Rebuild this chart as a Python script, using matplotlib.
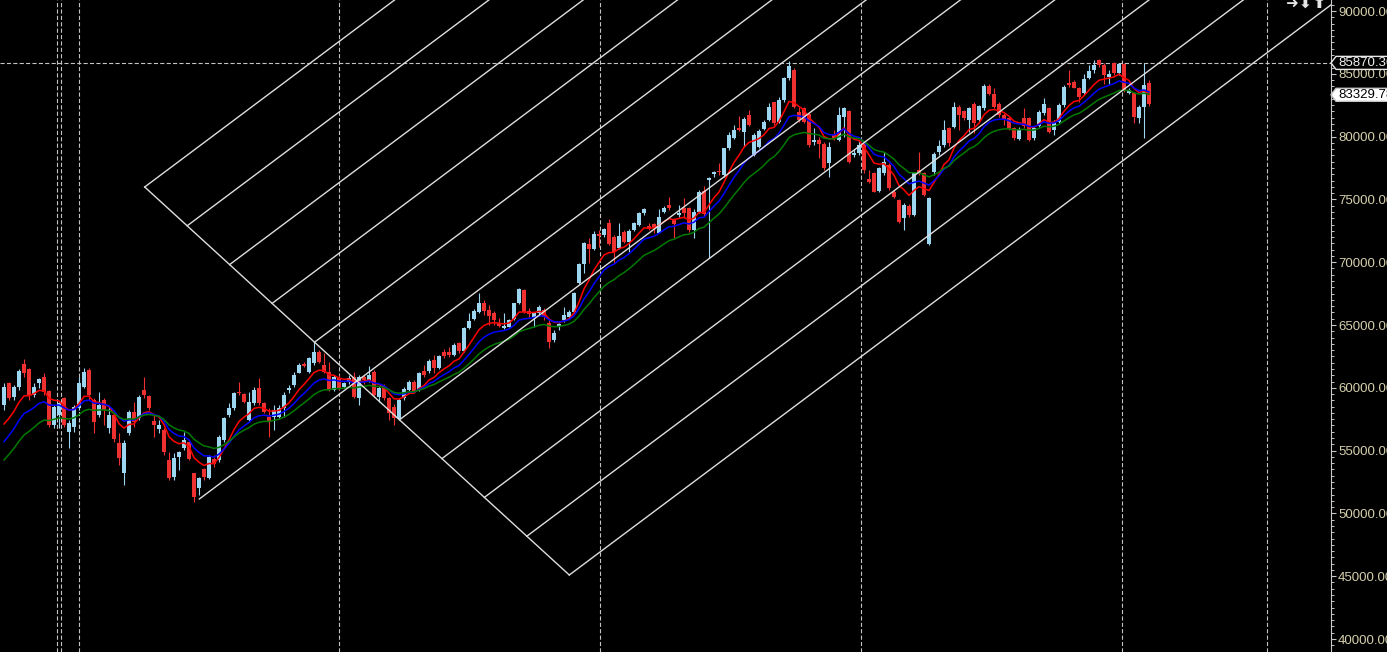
import numpy as np
import matplotlib
matplotlib.use('Agg')
from matplotlib import pyplot as plt
from matplotlib.patches import Polygon
from matplotlib.ticker import MultipleLocator, FixedLocator

# weekly candles (bar 0 = first full candle on the left)
opens = [
    58631, 60409, 59241, 60090, 61895, 61470, 59427, 60356, 60887, 59772,
    57038, 57835, 59162, 56508, 56906, 58365, 60090, 61417, 59029, 57835,
    59029, 56773, 57835, 55579, 53190, 56375, 58100, 57569, 59825, 59347,
    57357, 56693, 56640, 54252, 52925, 54464, 55180, 55711, 53190, 51996,
    53508, 52792, 54305, 54252, 55844, 57835, 58365, 59692, 59480, 57436,
    58763, 60011, 58816, 57702, 57702, 57702, 58365, 59825, 60223, 61205,
    61895, 61285, 61948, 62877, 61816, 61285, 59825, 60754, 60090, 60489,
    60887, 59162, 60887, 60622, 61286, 59295, 60144, 59162, 58499, 57490,
    59162, 59826, 60489, 59879, 61365, 61365, 62214, 61551, 62878, 62825,
    62613, 63541, 62957, 64736, 65452, 66063, 66726, 66195, 65930, 65187,
    64789, 64868, 65452, 66726, 67788, 66116, 65665, 65930, 66195, 65134,
    63807, 64921, 65399, 65664, 66063, 68318, 69858, 71450, 71025, 72246,
    72167, 73149, 72034, 71105, 72432, 71636, 72565, 72963, 73892, 72883,
    73043, 72352, 74025, 74555, 73414, 73759, 74290, 74290, 72565, 74025,
    75697, 76546, 76997, 77262, 76944, 79067, 79863, 80712, 80394, 81721,
    78536, 79200, 80606, 81323, 82729, 81190, 82915, 84640, 85304, 81986,
    82252, 81774, 79544, 79730, 79385, 77873, 80128, 79730, 81588, 82040,
    78536, 78669, 79465, 76625, 77076, 75670, 77076, 77740, 75617, 74953,
    73493, 74502, 73759, 77342, 77076, 71423, 77209, 78801, 79332, 80712,
    80792, 82384, 82040, 81323, 82570, 81323, 82252, 84030, 83366, 82570,
    81721, 81455, 80659, 79810, 81455, 81508, 79863, 80872, 81854, 82252,
    80526, 81190, 82517, 84242, 84375, 83844, 83446, 84640, 85304, 86100,
    85702, 84773, 85834, 85038, 85755, 83446, 83446, 81455, 82384, 84242,
]
highs = [
    60356, 60489, 60223, 61470, 62267, 61550, 60356, 60807, 61152, 59825,
    58631, 58896, 59294, 57436, 58631, 60887, 61550, 61550, 59162, 59692,
    59162, 58498, 57967, 56375, 55844, 58233, 58896, 59427, 60887, 59427,
    57835, 57436, 56773, 54915, 54783, 54995, 56508, 55844, 53243, 52925,
    53588, 54650, 54650, 56242, 57702, 58763, 59692, 60489, 59560, 59692,
    60090, 60754, 58896, 58365, 58631, 58631, 59692, 60223, 61285, 61948,
    62081, 62479, 63673, 63010, 62744, 62081, 61019, 61019, 60489, 61020,
    61286, 61020, 61020, 61737, 61418, 60144, 60304, 59295, 58711, 59162,
    60038, 60622, 60622, 61286, 61816, 62268, 62613, 62613, 63064, 63276,
    63541, 63674, 64868, 65983, 66249, 67576, 66992, 66594, 66142, 65532,
    65930, 65452, 66779, 67920, 67841, 66328, 66060, 66593, 66328, 65399,
    64603, 65187, 66461, 66195, 67655, 69964, 71636, 71901, 72512, 72565,
    72698, 73414, 72167, 73149, 72565, 72618, 73228, 74025, 74290, 73096,
    73149, 74210, 74476, 75219, 73494, 74555, 75086, 74423, 74210, 75750,
    76068, 76811, 77262, 77873, 79120, 80341, 80925, 81641, 81588, 82119,
    80261, 80606, 81323, 82650, 82782, 83181, 84773, 86020, 85436, 82384,
    82384, 81854, 80659, 79996, 79544, 79544, 80526, 82384, 82384, 82119,
    78987, 79730, 79598, 77342, 77209, 77607, 78801, 77873, 75749, 75033,
    74688, 74608, 77209, 78748, 77209, 75219, 78801, 79730, 81323, 80792,
    82782, 82517, 82119, 82384, 82782, 82517, 84162, 84162, 83844, 82782,
    81854, 81588, 80792, 80792, 82252, 81588, 80872, 82119, 83101, 82384,
    81323, 82650, 84110, 85304, 84508, 83977, 84959, 85702, 86100, 86180,
    85834, 85304, 85967, 85834, 85834, 83844, 83579, 82517, 85870.36, 84507,
]
lows = [
    58233, 59029, 59029, 59825, 60887, 59029, 59294, 59958, 59427, 56906,
    56773, 56773, 56906, 55180, 56508, 58233, 59958, 59029, 56428, 57702,
    57038, 56375, 55711, 53854, 52261, 56242, 56906, 57436, 59162, 58233,
    56109, 56375, 54650, 52659, 52659, 53455, 55048, 54252, 50934, 51465,
    52659, 52712, 53721, 54119, 55711, 57702, 58233, 59427, 58763, 57304,
    58631, 58631, 57967, 56109, 56640, 57569, 57702, 59560, 60090, 61152,
    61683, 61152, 61816, 61948, 61152, 59772, 59772, 59825, 59958, 60304,
    59162, 58632, 60304, 60489, 59295, 58897, 59030, 57437, 57039, 57437,
    59030, 59693, 59560, 59746, 60887, 61206, 61206, 61471, 62347, 62480,
    62533, 62745, 62878, 64656, 65399, 65983, 65797, 65001, 65001, 64868,
    64656, 64815, 65399, 66673, 65983, 65665, 64868, 65797, 65399, 63143,
    63674, 64603, 65266, 65532, 65983, 68265, 69115, 69911, 70972, 71238,
    72034, 71371, 69964, 71025, 71503, 70840, 72512, 72883, 73759, 72565,
    72299, 72299, 73892, 74157, 71901, 73626, 73494, 72432, 71901, 73892,
    73680, 70309, 76811, 76944, 76811, 78934, 79810, 80447, 79200, 80872,
    78450, 79120, 80526, 81243, 80925, 81057, 82782, 84508, 82252, 81190,
    81057, 79200, 79332, 78271, 77342, 76811, 79730, 79651, 79996, 77873,
    78403, 78536, 77076, 76280, 75564, 75617, 76944, 75749, 75086, 73095,
    72564, 73626, 73706, 76944, 75298, 71370, 76944, 78536, 79200, 79279,
    80712, 80526, 81323, 80394, 80261, 81190, 82119, 83313, 82252, 81588,
    80925, 80526, 79730, 79730, 80712, 79650, 79730, 80792, 81721, 80261,
    80128, 81057, 82384, 83977, 83844, 82782, 83313, 84587, 85038, 85569,
    84162, 84162, 84906, 84906, 83579, 83366, 81057, 81057, 79916, 82464,
]
closes = [
    60090, 59162, 60090, 61338, 61152, 59427, 60090, 60701, 59692, 57038,
    58498, 58763, 57038, 57171, 58498, 60356, 61285, 59427, 57304, 58631,
    58233, 57835, 55897, 54384, 55579, 58100, 57304, 59294, 59427, 58365,
    57038, 57038, 54915, 52792, 54384, 54915, 55844, 54305, 51332, 52792,
    52925, 54517, 53933, 56109, 57569, 58365, 59560, 59560, 58896, 58896,
    59825, 58763, 58100, 57304, 58233, 58365, 59427, 59958, 61019, 61816,
    61736, 62346, 62877, 62081, 61285, 59825, 60887, 59958, 60356, 60755,
    59295, 60887, 60622, 61020, 59428, 59959, 59162, 57968, 57570, 59030,
    59879, 60489, 59693, 61206, 61020, 62161, 61551, 62533, 62533, 62613,
    63409, 62931, 64789, 65346, 66116, 66779, 66142, 65718, 65399, 64948,
    64948, 65399, 66726, 67841, 66063, 65850, 66000, 66407, 65664, 63674,
    64337, 65081, 65797, 66063, 67575, 69858, 71556, 71025, 72246, 72087,
    72618, 71450, 70840, 72087, 71636, 72512, 73149, 73892, 74210, 72618,
    72830, 73626, 74290, 74290, 73043, 73892, 73892, 72565, 74025, 75617,
    73839, 76731, 77156, 77156, 79067, 80128, 80526, 80526, 81402, 80925,
    80128, 80447, 81190, 82384, 81057, 82915, 84640, 85649, 82384, 81323,
    81190, 79332, 79730, 79385, 77474, 79200, 79863, 81721, 82252, 78005,
    78722, 79332, 77342, 76360, 75617, 77474, 78005, 75935, 75219, 73228,
    74555, 73759, 77076, 77076, 75351, 75139, 78589, 79279, 80526, 79465,
    82384, 81721, 81455, 82252, 81057, 82464, 84056, 83366, 82384, 81721,
    81402, 80606, 79863, 80606, 80872, 79730, 80712, 81933, 82570, 80341,
    81190, 82517, 83977, 84110, 83897, 83181, 84587, 85224, 85702, 85702,
    84906, 84959, 85038, 85755, 83711, 83711, 81588, 82384, 84100, 82570,
]

# moving averages: periods and their value on the first bar
ema_periods = [8, 13, 21]
ema_start = [57120, 55710, 54250]
ema_colors = ['#ff0000', '#0000ff', '#007a00']

# period separators (in bar units)
separators = [10.67, 11.47, 14.93, 67.07, 119.25, 171.47, 223.67, 252.6]

# channel tool: base line ends, start of the middle line, number of lines
chan_base_a = (28.14, 75988)
chan_base_b = (113.06, 45096)
chan_anchor = (39.07, 51147)
chan_levels = 11

high_line = 85870.36
last_price = 83329.78

y_ticks = list(range(40000, 90001, 5000))
corner_icons = ['\u279c', '\u2b07', '\u2b06']

W, H = 1387, 652
fig = plt.figure(figsize=(W / 100, H / 100), dpi=100, facecolor='black')
ax = fig.add_axes([0, 0, 1331 / W, 1])
ax.set_facecolor('black')
plt.rcParams['lines.scale_dashes'] = False

n = len(closes)
x = np.arange(n)
o = np.array(opens, float)
c = np.array(closes, float)
hi = np.array(highs, float)
lo = np.array(lows, float)
up = c >= o

grid_col = '#c4c4c4'
for s in separators:
    ax.axvline(s, color=grid_col, lw=0.8, dashes=(3, 1.6), zorder=1)
ax.axhline(high_line, color=grid_col, lw=0.8, dashes=(3, 1.6), zorder=1)

bull = '#9cd6f0'
bear = '#ee3030'
cols = np.where(up, bull, bear)
ax.vlines(x, lo, hi, colors=cols, lw=0.8, zorder=2)
body_lo = np.minimum(o, c)
body_h = np.maximum(np.abs(c - o), 60)
ax.bar(x, body_h, bottom=body_lo, width=0.64, color=cols, linewidth=0, zorder=3)


def ema(values, period, start):
    a = 2.0 / (period + 1)
    out = [start]
    for v in values[1:]:
        out.append(out[-1] + a * (v - out[-1]))
    return out


for p, s0, col in zip(ema_periods, ema_start, ema_colors):
    ax.plot(x, ema(closes, p, s0), color=col, lw=1.1, zorder=4)

# channel
line_col = '#dedede'
bxs = np.linspace(chan_base_a[0], chan_base_b[0], chan_levels)
bys = np.linspace(chan_base_a[1], chan_base_b[1], chan_levels)
mid = chan_levels // 2
slope = (bys[mid] - chan_anchor[1]) / (bxs[mid] - chan_anchor[0])
ax.plot([bxs[0], bxs[-1]], [bys[0], bys[-1]], color=line_col, lw=1.0, zorder=5)
ax.plot([chan_anchor[0], bxs[mid]], [chan_anchor[1], bys[mid]], color=line_col, lw=1.0, zorder=5)
for bx, by in zip(bxs, bys):
    ax.plot([bx, bx + 400], [by, by + 400 * slope], color=line_col, lw=1.0, zorder=5)

ax.set_xlim(-0.8, 265.4)
ax.set_ylim(38965, 90877)

for side in ['top', 'left', 'bottom']:
    ax.spines[side].set_visible(False)
ax.spines['right'].set_color('#c8c8c8')
ax.spines['right'].set_linewidth(0.8)
ax.set_xticks([])
ax.yaxis.tick_right()
ax.yaxis.set_major_locator(FixedLocator(y_ticks))
ax.yaxis.set_minor_locator(MultipleLocator(500))
ax.set_yticklabels(['%.2f' % v for v in y_ticks])
ax.tick_params(axis='y', which='major', length=3.5, width=0.8, pad=1.5,
               colors='#c8c8c8', labelcolor='#d6d0ac', labelsize=9.5)
ax.tick_params(axis='y', which='minor', length=2.2, width=0.7, colors='#c8c8c8')
for lab in ax.get_yticklabels():
    lab.set_fontfamily('Liberation Sans')


def price_tag(price, face, edge, txtcol):
    yf = ax.transData.transform((0, price))[1] / H
    x0 = 1331 / W
    dx = 5 / W
    dy = 6.5 / H
    pts = [(x0, yf), (x0 + dx, yf + dy), (1.01, yf + dy), (1.01, yf - dy), (x0 + dx, yf - dy)]
    fig.add_artist(Polygon(pts, closed=True, transform=fig.transFigure,
                           facecolor=face, edgecolor=edge, lw=1.0, clip_on=False))
    fig.text(1338 / W, yf, '%.2f' % price, color=txtcol, fontsize=9.5,
             family='Liberation Sans', va='center', ha='left')


price_tag(high_line, 'black', '#e8e8e8', '#f0f0f0')
price_tag(last_price, 'white', '#c8c8c8', 'black')

# small navigation icons in the top right corner
for k, ch in enumerate(corner_icons):
    fig.text((1291 + 14 * k) / W, 1 - 4 / H, ch, color='#e4e4e4', fontsize=11,
             family='DejaVu Sans', fontweight='bold', va='center', ha='center')

fig.savefig('out.png', dpi=100, facecolor='black')
